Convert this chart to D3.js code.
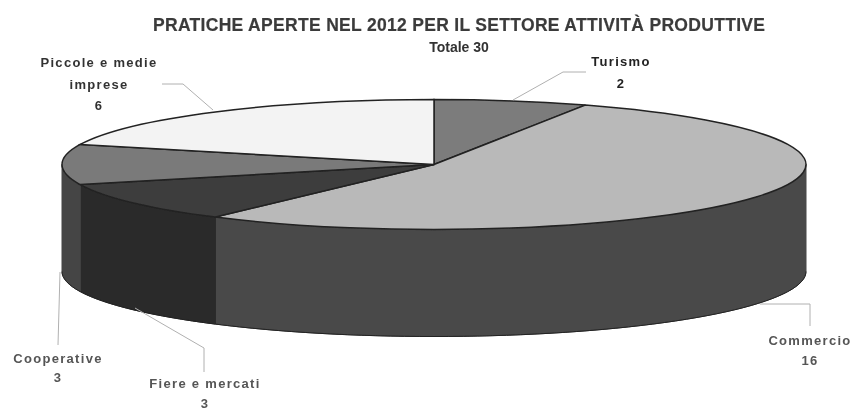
<!DOCTYPE html>
<html><head><meta charset="utf-8">
<script src="https://cdn.jsdelivr.net/npm/d3@7"></script>
<style>html,body{margin:0;background:#fff}svg{display:block}text{font-family:"Liberation Sans",Arial,sans-serif;font-weight:bold;text-anchor:middle}</style>
</head><body><svg id="c" width="858" height="410"></svg>
<script>
const categories=["Turismo","Commercio","Fiere e mercati","Cooperative","Piccole e medie imprese"];
const values=[2,16,3,3,6];
const topColors=["#7b7b7b","#b9b9b9","#3d3d3d","#7a7a7a","#f3f3f3"];
const wallColors=["#555","#484848","#2a2a2a","#444","#555"];
const labelLines=[["Turismo","2"],["Commercio","16"],["Fiere e mercati","3"],["Cooperative","3"],["Piccole e medie","imprese","6"]];
const labelPos=[[621,66],[810,345],[205,388],[58,363],[99,67]];
const labelGap=[22,20,19.5,19,21.5];
const labelColors=["#222","#555","#555","#555","#333"];
const leaders=[[[586,72],[563,72],[513,100]],[[810,326],[810,304],[760,304]],[[204,372],[204,348],[135,308]],[[58,345],[60,272]],[[162,84],[183,84],[213,110]]];
const cx=434,cy=164.5,rx=372,ry=65,depth=107;
const svg=d3.select("#c");
const defs=svg.append("defs");
defs.append("filter").attr("id","b").append("feGaussianBlur").attr("stdDeviation",0.45);
const g=svg.append("g").attr("filter","url(#b)");
const pie=d3.pie().sort(null).startAngle(0).endAngle(2*Math.PI)(values);
const sx=d3.scaleLinear().domain([-1,1]).range([cx-rx,cx+rx]);
const sy=d3.scaleLinear().domain([-1,1]).range([cy-ry,cy+ry]);
const px=a=>sx(Math.sin(a)), py=a=>sy(-Math.cos(a));
function wall(a0,a1){
  const s=Math.max(a0,Math.PI/2),e=Math.min(a1,1.5*Math.PI);
  if(e<=s)return null;
  const p=d3.path();
  const pts=d3.range(0,41).map(i=>s+(e-s)*i/40);
  pts.forEach((a,i)=>i?p.lineTo(px(a),py(a)):p.moveTo(px(a),py(a)));
  pts.slice().reverse().forEach(a=>p.lineTo(px(a),py(a)+depth));
  p.closePath();
  return p.toString();
}
g.selectAll(".wall").data(pie).join("path").attr("class","wall")
 .attr("d",d=>wall(d.startAngle,d.endAngle)).attr("fill",(d,i)=>wallColors[i])
 .attr("stroke",(d,i)=>wallColors[i]).attr("stroke-width",1);
const lowerEdge=d3.line().x(a=>px(a)).y(a=>py(a)+depth);
g.append("path").attr("d",lowerEdge(d3.range(0,81).map(i=>Math.PI/2+Math.PI*i/80)))
 .attr("fill","none").attr("stroke","#222").attr("stroke-width",1);
const arc=d3.arc().innerRadius(0).outerRadius(rx);
g.append("g").attr("transform",`translate(${cx},${cy}) scale(1,${ry/rx})`)
 .selectAll("path").data(pie).join("path").attr("d",arc).attr("fill",(d,i)=>topColors[i])
 .attr("stroke","#222").attr("stroke-width",1.5).attr("vector-effect","non-scaling-stroke");
const line=d3.line();
g.selectAll(".leader").data(leaders).join("path").attr("class","leader").attr("d",line)
 .attr("fill","none").attr("stroke","#b0b0b0").attr("stroke-width",1);
g.append("text").attr("x",459).attr("y",31).attr("font-size",17.5).attr("fill","#3a3a3a").attr("stroke","#3a3a3a").attr("stroke-width",0.2).attr("textLength",612).attr("lengthAdjust","spacing").text("PRATICHE APERTE NEL 2012 PER IL SETTORE ATTIVITÀ PRODUTTIVE");
g.append("text").attr("x",459).attr("y",52).attr("font-size",14).attr("fill","#333").text("Totale 30");
labelLines.forEach((ls,i)=>{
  const t=g.append("text").attr("font-size",13).attr("letter-spacing",1.3).attr("fill",labelColors[i]);
  ls.forEach((l,j)=>t.append("tspan").attr("x",labelPos[i][0]).attr("y",labelPos[i][1]+j*labelGap[i]).text(l));
});
</script></body></html>
